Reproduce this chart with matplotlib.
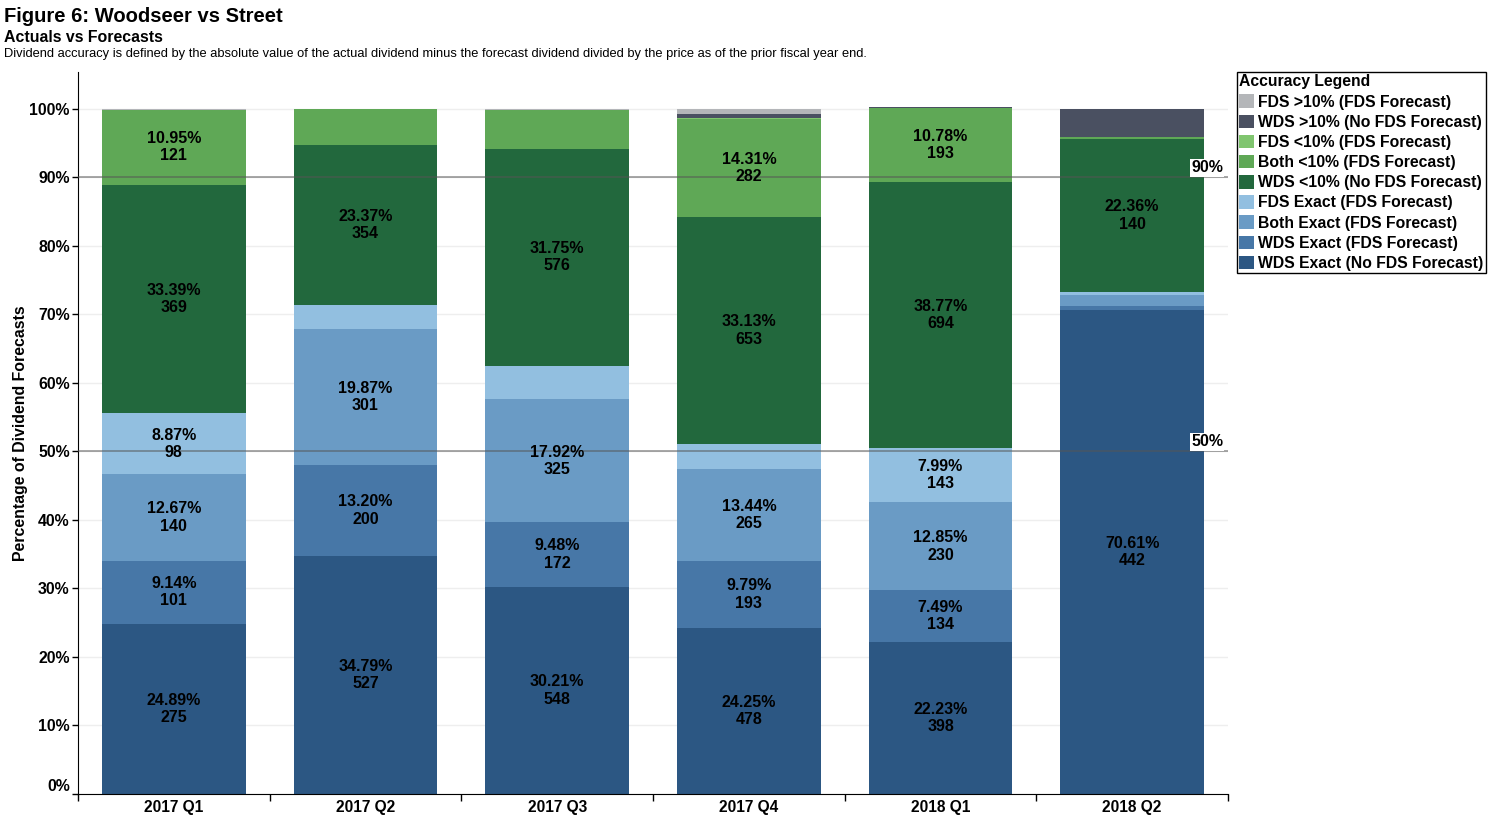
import matplotlib
matplotlib.use("Agg")
import matplotlib.pyplot as plt
from matplotlib.patches import Patch
import numpy as np

plt.rcParams['font.family'] = ['Liberation Sans', 'DejaVu Sans']

quarters = ["2017 Q1", "2017 Q2", "2017 Q3", "2017 Q4", "2018 Q1", "2018 Q2"]

# Stack order, bottom to top (percent of dividend forecasts)
wds_exact_nofds = [24.89, 34.79, 30.21, 24.25, 22.23, 70.61]
wds_exact_fds = [9.14, 13.20, 9.48, 9.79, 7.49, 0.60]
both_exact = [12.67, 19.87, 17.92, 13.44, 12.85, 1.60]
fds_exact = [8.87, 3.53, 4.87, 3.62, 7.99, 0.45]
wds_lt10_nofds = [33.39, 23.37, 31.75, 33.13, 38.77, 22.36]
both_lt10 = [10.95, 5.24, 5.57, 14.31, 10.78, 0.30]
fds_lt10 = [0.0, 0.0, 0.0, 0.15, 0.0, 0.0]
wds_gt10_nofds = [0.0, 0.0, 0.0, 0.65, 0.20, 4.08]
fds_gt10 = [0.09, 0.0, 0.20, 0.66, 0.0, 0.0]

# Counts shown on labelled segments
wds_exact_nofds_n = [275, 527, 548, 478, 398, 442]
wds_exact_fds_n = [101, 200, 172, 193, 134, None]
both_exact_n = [140, 301, 325, 265, 230, None]
fds_exact_n = [98, None, None, None, 143, None]
wds_lt10_nofds_n = [369, 354, 576, 653, 694, 140]
both_lt10_n = [121, None, None, 282, 193, None]
fds_lt10_n = [None] * 6
wds_gt10_nofds_n = [None] * 6
fds_gt10_n = [None] * 6

series = [
    ("WDS Exact (No FDS Forecast)", wds_exact_nofds, wds_exact_nofds_n, "#2c5783"),
    ("WDS Exact (FDS Forecast)", wds_exact_fds, wds_exact_fds_n, "#4777a7"),
    ("Both Exact (FDS Forecast)", both_exact, both_exact_n, "#6a9bc5"),
    ("FDS Exact (FDS Forecast)", fds_exact, fds_exact_n, "#92bfe0"),
    ("WDS <10% (No FDS Forecast)", wds_lt10_nofds, wds_lt10_nofds_n, "#22683d"),
    ("Both <10% (FDS Forecast)", both_lt10, both_lt10_n, "#5fa856"),
    ("FDS <10% (FDS Forecast)", fds_lt10, fds_lt10_n, "#80c56f"),
    ("WDS >10% (No FDS Forecast)", wds_gt10_nofds, wds_gt10_nofds_n, "#4a5061"),
    ("FDS >10% (FDS Forecast)", fds_gt10, fds_gt10_n, "#b4b6b9"),
]

ref_lines = [90, 50]

W, H = 1493, 834
fig = plt.figure(figsize=(W / 100, H / 100), dpi=100)
ax = fig.add_axes([78 / W, 1 - 794 / H, (1228 - 78) / W, (794 - 72) / H])

x = np.arange(len(quarters))
bottom = np.zeros(len(quarters))
handles = []
for name, vals, counts, col in series:
    vals = np.array(vals, dtype=float)
    ax.bar(x, vals, width=0.75, bottom=bottom, color=col, zorder=2, linewidth=0)
    for i, (v, n) in enumerate(zip(vals, counts)):
        if n is not None:
            ax.text(x[i], bottom[i] + v / 2, f"{v:.2f}%\n{n}", ha="center", va="center",
                    fontsize=11.5, fontweight="bold", color="black", linespacing=1.2, zorder=5)
    bottom += vals
    handles.append(Patch(facecolor=col, edgecolor="none", label=name))

for r in ref_lines:
    ax.axhline(r, color="#555555", alpha=0.55, lw=1.3, zorder=4)
    ax.text(0.9957, r + 0.35, f"{r}%", transform=ax.get_yaxis_transform(),
            ha="right", va="bottom", fontsize=11.5, fontweight="bold", zorder=6,
            bbox=dict(facecolor="white", edgecolor="none", pad=1.0))

ax.set_xlim(-0.5, len(quarters) - 0.5)
ax.set_ylim(0, 105.4)
ax.set_yticks(np.arange(0, 101, 10))
ax.set_yticklabels([f"{v}%" for v in range(0, 101, 10)], fontsize=11.4, fontweight="bold")
ax.get_yticklabels()[0].set_va("bottom")
ax.set_xticks(x)
ax.set_xticklabels(quarters, fontsize=11.2, fontweight="bold")
ax.set_xticks(np.arange(-0.5, len(quarters), 1), minor=True)
ax.tick_params(axis="x", which="major", length=0, pad=4)
ax.tick_params(axis="x", which="minor", length=5, width=1, color="black")
ax.tick_params(axis="y", length=4, width=1, color="black", pad=2)
ax.grid(axis="y", color="#eeeeee", lw=1, zorder=0)
for s in ["top", "right"]:
    ax.spines[s].set_visible(False)
ax.spines["left"].set_color("black")
ax.spines["bottom"].set_color("black")
ax.set_ylabel("Percentage of Dividend Forecasts", fontsize=11.4, fontweight="bold", labelpad=1)

leg = fig.legend(handles=handles[::-1], loc="upper left",
                 bbox_to_anchor=(1237 / W, 1 - 72 / H), title="Accuracy Legend",
                 prop=dict(size=11.3, weight="bold"), title_fontproperties=dict(size=11.3, weight="bold"),
                 frameon=True, fancybox=False, edgecolor="black", framealpha=1,
                 handlelength=0.95, handleheight=0.95, handletextpad=0.25, labelspacing=0.32,
                 borderpad=0.15, borderaxespad=0, alignment="left")
leg.get_frame().set_linewidth(1.0)

fig.text(4 / W, 1 - 7 / H, "Figure 6: Woodseer vs Street", fontsize=14.5, fontweight="bold", va="top", ha="left")
fig.text(4 / W, 1 - 30 / H, "Actuals vs Forecasts", fontsize=11.4, fontweight="bold", va="top", ha="left")
fig.text(4 / W, 1 - 48 / H,
         "Dividend accuracy is defined by the absolute value of the actual dividend minus the forecast dividend divided by the price as of the prior fiscal year end.",
         fontsize=9.3, va="top", ha="left")

fig.savefig("out.png", dpi=100)
